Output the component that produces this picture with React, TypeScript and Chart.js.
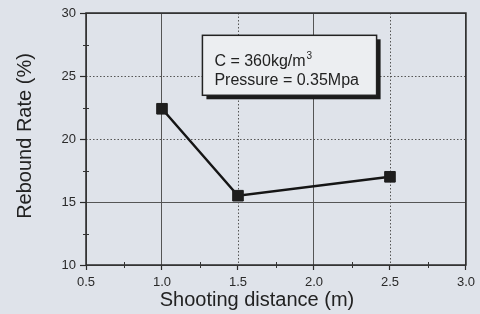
import React, { useEffect, useRef } from "react";
import { Chart, registerables } from "chart.js";

Chart.register(...registerables);

const distances = [1.0, 1.5, 2.5];
const reboundRates = [22.4, 15.5, 17.0];
const xTicks = [0.5, 1.0, 1.5, 2.0, 2.5, 3.0];
const yTicks = [10, 15, 20, 25, 30];
const solidX = [0.5, 1.0, 2.0, 3.0];
const solidY = [10, 15, 30];
const noteLine1 = "C = 360kg/m";
const noteSup = "3";
const noteLine2 = "Pressure = 0.35Mpa";
const xTitle = "Shooting distance (m)";
const yTitle = "Rebound Rate (%)";

const FONT = "'Liberation Sans', Arial, sans-serif";
const BG = "#dfe3ea";
const INK = "#222222";
const GRID = "#555555";

const customPlugin = {
  id: "custom",
  beforeDraw(chart: any) {
    const { ctx, width, height } = chart;
    ctx.save();
    ctx.fillStyle = BG;
    ctx.fillRect(0, 0, width, height);
    ctx.restore();
  },
  beforeDatasetsDraw(chart: any) {
    const { ctx, chartArea } = chart;
    const xs = chart.scales.x;
    const ys = chart.scales.y;
    ctx.save();
    ctx.strokeStyle = GRID;
    ctx.lineWidth = 1;
    ctx.setLineDash([1.5, 2]);
    xTicks.filter((v) => !solidX.includes(v)).forEach((v) => {
      const px = Math.round(xs.getPixelForValue(v)) + 0.5;
      ctx.beginPath();
      ctx.moveTo(px, chartArea.top);
      ctx.lineTo(px, chartArea.bottom);
      ctx.stroke();
    });
    yTicks.filter((v) => !solidY.includes(v)).forEach((v) => {
      const py = Math.round(ys.getPixelForValue(v)) + 0.5;
      ctx.beginPath();
      ctx.moveTo(chartArea.left, py);
      ctx.lineTo(chartArea.right, py);
      ctx.stroke();
    });
    ctx.restore();
  },
  afterDraw(chart: any) {
    const { ctx, chartArea } = chart;
    const xs = chart.scales.x;
    const ys = chart.scales.y;
    ctx.save();
    // frame
    ctx.strokeStyle = "#2a2a2a";
    ctx.lineWidth = 1.5;
    ctx.strokeRect(chartArea.left, chartArea.top, chartArea.right - chartArea.left, chartArea.bottom - chartArea.top);
    // minor ticks
    ctx.lineWidth = 1;
    ctx.strokeStyle = "#333";
    for (let i = 0; i < xTicks.length - 1; i++) {
      const v = (xTicks[i] + xTicks[i + 1]) / 2;
      const px = Math.round(xs.getPixelForValue(v)) + 0.5;
      ctx.beginPath();
      ctx.moveTo(px, chartArea.bottom - 3);
      ctx.lineTo(px, chartArea.bottom + 3);
      ctx.stroke();
    }
    for (let i = 0; i < yTicks.length - 1; i++) {
      const v = (yTicks[i] + yTicks[i + 1]) / 2;
      const py = Math.round(ys.getPixelForValue(v)) + 0.5;
      ctx.beginPath();
      ctx.moveTo(chartArea.left - 3, py);
      ctx.lineTo(chartArea.left + 3, py);
      ctx.stroke();
    }
    // annotation box
    const bx1 = xs.getPixelForValue(1.266);
    const bx2 = xs.getPixelForValue(2.412);
    const by1 = ys.getPixelForValue(28.23);
    const by2 = ys.getPixelForValue(23.47);
    ctx.fillStyle = "#1c1c1c";
    ctx.fillRect(bx1 + 4, by1 + 4, bx2 - bx1, by2 - by1);
    ctx.fillStyle = "#eceef1";
    ctx.fillRect(bx1, by1, bx2 - bx1, by2 - by1);
    ctx.strokeStyle = "#222";
    ctx.lineWidth = 1.5;
    ctx.strokeRect(bx1, by1, bx2 - bx1, by2 - by1);
    ctx.fillStyle = INK;
    ctx.textBaseline = "alphabetic";
    ctx.textAlign = "left";
    ctx.font = `16px ${FONT}`;
    ctx.fillText(noteLine1, bx1 + 12, by1 + 31);
    const w1 = ctx.measureText(noteLine1).width;
    ctx.fillText(noteLine2, bx1 + 12, by1 + 50);
    ctx.font = `10px ${FONT}`;
    ctx.fillText(noteSup, bx1 + 12 + w1 + 1, by1 + 24);
    // axis titles
    ctx.font = `20px ${FONT}`;
    ctx.textAlign = "center";
    ctx.textBaseline = "middle";
    ctx.fillText(xTitle, 257, 300);
    ctx.translate(25, 136);
    ctx.rotate(-Math.PI / 2);
    ctx.fillText(yTitle, 0, 0);
    ctx.restore();
  },
};

function gridStyle(solid: number[]) {
  return {
    color: (ctx: any) => (ctx.tick && solid.includes(ctx.tick.value) ? GRID : "rgba(0,0,0,0)"),
    lineWidth: 1,
    drawTicks: true,
    tickColor: "#2a2a2a",
    tickWidth: 1.2,
  };
}

export default function App() {
  const ref = useRef<HTMLCanvasElement | null>(null);
  useEffect(() => {
    document.body.style.margin = "0";
    if (!ref.current) return;
    const chart = new Chart(ref.current, {
      type: "line",
      data: {
        datasets: [
          {
            data: distances.map((d, i) => ({ x: d, y: reboundRates[i] })),
            borderColor: "#151515",
            borderWidth: 2.5,
            pointStyle: "rect",
            pointRadius: 7.5,
            pointBackgroundColor: "#1e1e1e",
            pointBorderColor: "#1e1e1e",
            pointBorderWidth: 1,
            tension: 0,
          },
        ],
      },
      options: {
        responsive: false,
        animation: false,
        events: [],
        layout: { padding: { top: 13, right: 12, left: 0, bottom: 0 } },
        plugins: { legend: { display: false }, tooltip: { enabled: false } },
        scales: {
          x: {
            type: "linear",
            min: 0.5,
            max: 3.0,
            afterFit: (s: any) => {
              s.height = 49;
            },
            afterBuildTicks: (s: any) => {
              s.ticks = xTicks.map((v) => ({ value: v }));
            },
            border: { display: false },
            grid: { ...gridStyle(solidX), tickLength: 5 },
            ticks: {
              padding: 5,
              color: "#2a2a2a",
              font: { family: FONT, size: 13 },
              callback: (v: any) => Number(v).toFixed(1),
              maxRotation: 0,
            },
          },
          y: {
            type: "linear",
            min: 10,
            max: 30,
            afterFit: (s: any) => {
              s.width = 86;
            },
            afterBuildTicks: (s: any) => {
              s.ticks = yTicks.map((v) => ({ value: v }));
            },
            border: { display: false },
            grid: { ...gridStyle(solidY), tickLength: 6 },
            ticks: {
              padding: 4,
              color: "#2a2a2a",
              font: { family: FONT, size: 13 },
              callback: (v: any) => String(v),
            },
          },
        },
      },
      plugins: [customPlugin],
    } as any);
    return () => chart.destroy();
  }, []);
  return <canvas ref={ref} width={480} height={314} style={{ display: "block" }} />;
}
